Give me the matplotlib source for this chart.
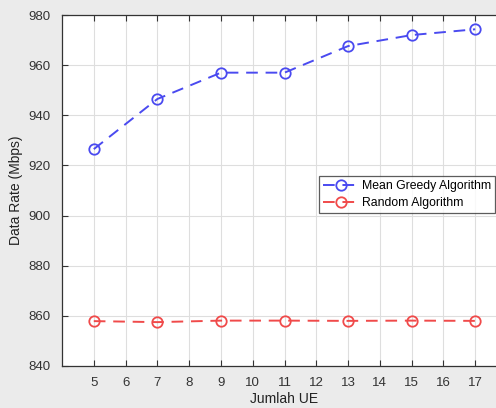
import matplotlib
matplotlib.use("Agg")
import matplotlib.pyplot as plt

plt.rcParams['font.family'] = ['Liberation Sans', 'DejaVu Sans']

# data
jumlah_ue = [5, 7, 9, 11, 13, 15, 17]
greedy = [926.5, 946.5, 957.0, 957.0, 967.6, 972.0, 974.3]
random_alg = [857.9, 857.5, 858.1, 858.1, 858.0, 858.1, 858.0]

x_ticks = list(range(5, 18))
y_ticks = list(range(840, 981, 20))

fig = plt.figure(figsize=(4.96, 4.08), dpi=100, facecolor='#ebebeb')
# axes extends past the right edge (reference is cropped there)
ax = fig.add_axes([62 / 496, 1 - 366 / 408, 445 / 496, 351 / 408])
ax.set_facecolor('white')

ax.plot(jumlah_ue, greedy, '--o', color='#4a4af0', markerfacecolor='none',
        markersize=7.5, markeredgewidth=1.3, linewidth=1.4, dashes=(6, 4),
        label='Mean Greedy Algorithm')
ax.plot(jumlah_ue, random_alg, '--o', color='#f04a4a', markerfacecolor='none',
        markersize=7.5, markeredgewidth=1.3, linewidth=1.4, dashes=(6, 4),
        label='Random Algorithm')

ax.set_xlim(4, 18)
ax.set_ylim(840, 980)
ax.set_xticks(x_ticks)
ax.set_yticks(y_ticks)
ax.grid(True, color='#dedede', linewidth=0.8)
ax.set_axisbelow(True)
ax.tick_params(direction='in', top=True, right=True, colors='#333333',
               labelsize=9.5, length=4, pad=8)
for s in ax.spines.values():
    s.set_color('#333333')
    s.set_linewidth(0.9)

ax.set_xlabel('Jumlah UE', fontsize=10, color='#222222', labelpad=2)
ax.set_ylabel('Data Rate (Mbps)', fontsize=10, color='#222222', labelpad=4)

leg = ax.legend(loc='upper left', bbox_to_anchor=(313 / 496, 1 - 170 / 408),
                bbox_transform=fig.transFigure, fontsize=8.8, frameon=True,
                fancybox=False, edgecolor='#333333', handlelength=3.0,
                borderpad=0.3, labelspacing=0.45, handletextpad=0.2)
leg.get_frame().set_linewidth(0.9)

fig.savefig('out.png', dpi=100, facecolor=fig.get_facecolor())
